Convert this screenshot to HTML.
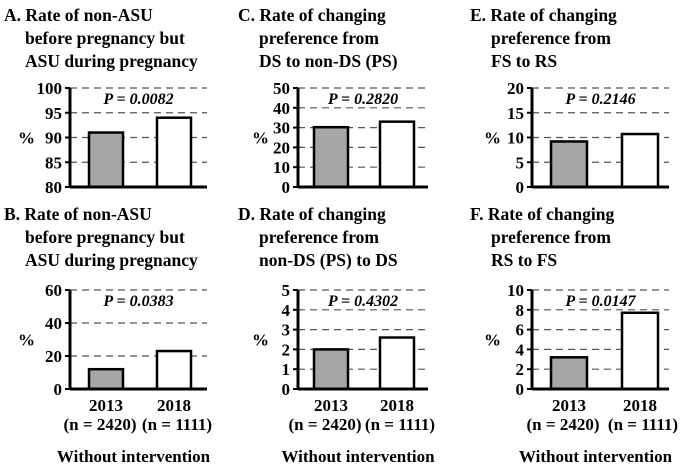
<!DOCTYPE html>
<html><head><meta charset="utf-8"><style>
body{margin:0;background:#fff;}
svg text{font-family:"Liberation Serif","DejaVu Serif",serif;font-weight:bold;fill:#000;}
</style></head><body>
<svg id="c" width="692" height="464" xmlns="http://www.w3.org/2000/svg"></svg>
<script>
const panelIds=["A","B","C","D","E","F"];
const titles=[["A. Rate of non-ASU","before pregnancy but","ASU during pregnancy"],["B. Rate of non-ASU","before pregnancy but","ASU during pregnancy"],["C. Rate of changing","preference from","DS to non-DS (PS)"],["D. Rate of changing","preference from","non-DS (PS) to DS"],["E. Rate of changing","preference from","FS to RS"],["F. Rate of changing","preference from","RS to FS"]];
const yMins=[80,0,0,0,0,0];
const yMaxs=[100,60,50,5,20,10];
const ySteps=[5,20,10,1,5,2];
const values2013=[91,12,30.2,2.0,9.2,3.2];
const values2018=[94,23,33,2.6,10.7,7.7];
const pValues=["P = 0.0082","P = 0.0383","P = 0.2820","P = 0.4302","P = 0.2146","P = 0.0147"];
const years=["2013","2018"];
const nLabels=["(n = 2420)","(n = 1111)"];
const svg=document.getElementById('c');
const NS="http://www.w3.org/2000/svg";
const FF='"Liberation Serif","DejaVu Serif",serif';
function mk(tag,attrs,parent){const e=document.createElementNS(NS,tag);for(const k in attrs)e.setAttribute(k,attrs[k]);if(tag==='text'){e.setAttribute('font-family',FF);e.setAttribute('font-weight','bold');}(parent||svg).appendChild(e);return e;}
const colX=[70,298,532], colTitleX=[4,238,470], rowTop=[88,290], rowTitleY=[21,220];
const H=99;
panelIds.forEach((id,i)=>{
  const col=Math.floor(i/2), row=i%2;
  const g=mk('g',{});
  
  
  const ax=colX[col], top=rowTop[row], bot=top+H, w=col==1?130:137;
  const y=v=>bot-(v-yMins[i])/(yMaxs[i]-yMins[i])*H;
  titles[i].forEach((t,k)=>{const e=mk('text',{x:colTitleX[col]+(k?21:0),y:rowTitleY[row]+k*23,'font-size':17.5},g);e.textContent=t;
    });
  for(let v=yMins[i];v<=yMaxs[i]+1e-9;v+=ySteps[i]){
    if(v>yMins[i]){const l=mk('line',{x1:ax,x2:ax+w,y1:y(v),y2:y(v),stroke:'#555','stroke-width':1.2,'stroke-dasharray':'7,5'},g);
      }
    mk('line',{x1:ax-5,x2:ax,y1:y(v),y2:y(v),stroke:'#000','stroke-width':2},g);
    const t=mk('text',{x:ax-8,y:y(v)+6,'font-size':17,'text-anchor':'end'},g);t.textContent=String(Math.round(v*10)/10);
    
  }
  const pc=mk('text',{x:colTitleX[col]+14,y:top+H/2+6,'font-size':17},g);pc.textContent='%';
  
  const vals=[values2013[i],values2018[i]];
  const bx=col==1?[16,82]:(col==2?[19,90]:[19,87]), bw=col==2?36:34;
  vals.forEach((v,k)=>{const r=mk('rect',{x:ax+bx[k],y:y(v),width:bw,height:bot-y(v),fill:k?'#fff':'#a6a6a6',stroke:'#000','stroke-width':2.5},g);
    
    if(row==1){const t=mk('text',{x:ax+bx[k]+bw/2,y:411,'font-size':17,'text-anchor':'middle'},g);t.textContent=years[k];
      
      const n=mk('text',{x:ax+bx[k]+bw/2+(k?3:-6),y:430,'font-size':17,'text-anchor':'middle'},g);n.textContent=nLabels[k];
      }
  });
  mk('line',{x1:ax,x2:ax,y1:top,y2:bot,stroke:'#000','stroke-width':3},g);
  mk('line',{x1:ax,x2:ax+w,y1:bot,y2:bot,stroke:'#000','stroke-width':3},g);
  const p=mk('text',{x:ax+w/2,y:top+16,'font-size':16,'font-style':'italic','text-anchor':'middle'},g);p.textContent=pValues[i];
  
  if(row==1){const t=mk('text',{x:ax+w/2-5,y:462,'font-size':17,'text-anchor':'middle'},g);t.textContent='Without intervention';
    }
});
</script>
</body></html>
